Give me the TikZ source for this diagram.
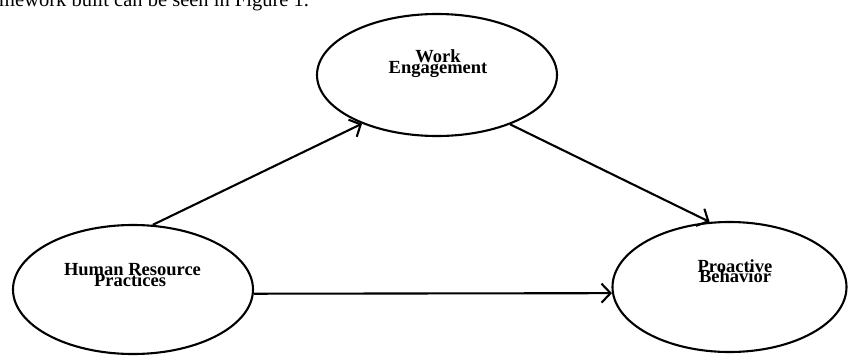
\documentclass[tikz,border=0pt]{standalone}
\usepackage{fontspec}
\setmainfont{Liberation Serif}
\usetikzlibrary{shapes.geometric,arrows.meta}
\tikzset{
  oval/.style={draw=black, line width=2.1pt, ellipse, inner sep=0pt},
  lbl/.style={font=\bfseries\fontsize{18.5}{11}\selectfont, align=center, inner sep=0pt, anchor=base},
  conn/.style={line width=2.1pt, -{Straight Barb[length=9pt,width=19pt,line width=2.1pt]}},
  bodytext/.style={font=\fontsize{20.5}{24}\selectfont, inner sep=0pt, anchor=base west}
}
\begin{document}
\begin{tikzpicture}[x=1pt,y=-1pt]
\useasboundingbox (0,0) rectangle (848,356);
\clip (0,0) rectangle (848,356);
\node[bodytext] (caption) at (-1,6) {mework built can be seen in Figure 1.};
\node[oval, minimum width=240pt, minimum height=122pt] (we) at (437,75) {};
\node[oval, minimum width=240pt, minimum height=129pt] (hrp) at (133,289.5) {};
\node[oval, minimum width=234pt, minimum height=130pt] (pb) at (729.5,287) {};
\node[lbl] (wet1) at (438,62) {Work};
\node[lbl] (wet2) at (438,73) {Engagement};
\node[lbl] (hrpt1) at (132.5,275) {Human Resource};
\node[lbl] (hrpt2) at (130,286) {Practices};
\node[lbl] (pbt1) at (735,272) {Proactive};
\node[lbl] (pbt2) at (735,282) {Behavior};
\draw[conn] (hrp.73) -- (we.213);
\draw[conn] (we.-34) -- (pb.107);
\draw[conn] (hrp.-2) -- (pb.183.5);
\end{tikzpicture}
\end{document}
